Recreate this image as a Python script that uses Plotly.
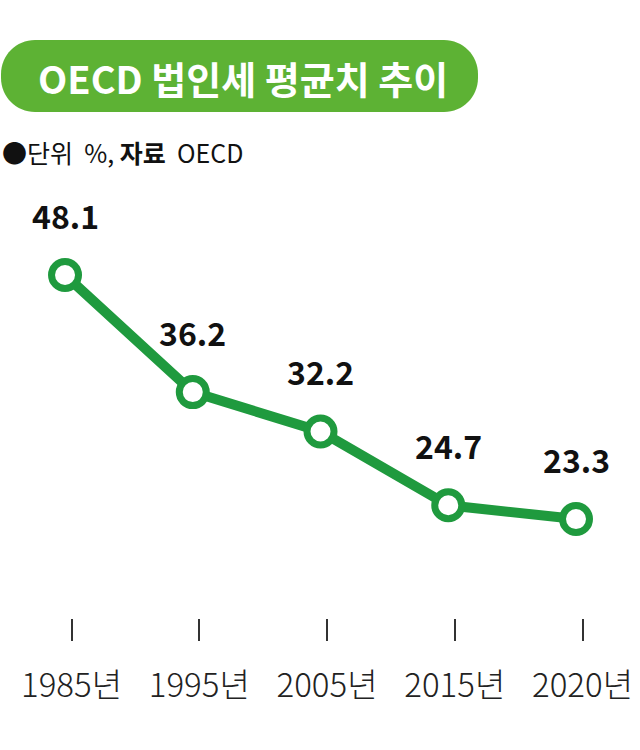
import plotly.graph_objects as go

years = ["1985년", "1995년", "2005년", "2015년", "2020년"]
values = [48.1, 36.2, 32.2, 24.7, 23.3]
labels = ["48.1", "36.2", "32.2", "24.7", "23.3"]

W, H = 640, 750
LINE_GREEN = "#1F9A3E"
PILL_GREEN = "#5DB234"
FONT = "Noto Sans CJK KR"

def px(x):
    return x / W

def py(y):
    return 1 - y / H

def pill_path(x0, y0, x1, y1, r):
    k = 0.5523 * r
    pts = []
    pts.append(f"M{px(x0 + r)},{py(y0)}")
    pts.append(f"L{px(x1 - r)},{py(y0)}")
    pts.append(f"C{px(x1 - r + k)},{py(y0)} {px(x1)},{py(y0 + r - k)} {px(x1)},{py(y0 + r)}")
    pts.append(f"L{px(x1)},{py(y1 - r)}")
    pts.append(f"C{px(x1)},{py(y1 - r + k)} {px(x1 - r + k)},{py(y1)} {px(x1 - r)},{py(y1)}")
    pts.append(f"L{px(x0 + r)},{py(y1)}")
    pts.append(f"C{px(x0 + r - k)},{py(y1)} {px(x0)},{py(y1 - r + k)} {px(x0)},{py(y1 - r)}")
    pts.append(f"L{px(x0)},{py(y0 + r)}")
    pts.append(f"C{px(x0)},{py(y0 + r - k)} {px(x0 + r - k)},{py(y0)} {px(x0 + r)},{py(y0)}")
    pts.append("Z")
    return " ".join(pts)

fig = go.Figure()
fig.add_trace(go.Scatter(
    x=years, y=values, mode="lines+markers",
    line=dict(color=LINE_GREEN, width=10),
    marker=dict(size=27, color="white", line=dict(color=LINE_GREEN, width=7)),
    hoverinfo="skip", showlegend=False,
))
# invisible trace for the tick axis
fig.add_trace(go.Scatter(x=years, y=values, xaxis="x2", mode="markers",
                         marker=dict(opacity=0), hoverinfo="skip", showlegend=False))

for yr, v, t in zip(years, values, labels):
    fig.add_annotation(x=yr, y=v, text=t, showarrow=False, yshift=60,
                       font=dict(family=FONT, size=32, color="#111111", weight=600))

fig.add_shape(type="path", xref="paper", yref="paper", path=pill_path(1, 40, 478, 112, 34),
              fillcolor=PILL_GREEN, line=dict(width=0), layer="below")
fig.add_annotation(xref="paper", yref="paper", x=px(36), y=py(78), xanchor="left", yanchor="middle",
                   text="<b>OECD 법인세 평균치 추이</b>", showarrow=False,
                   font=dict(family=FONT, size=38, color="white"))
fig.add_annotation(xref="paper", yref="paper", x=px(0), y=py(152), xanchor="left", yanchor="middle",
                   text="●단위  %, <b>자료</b>  OECD", showarrow=False,
                   font=dict(family=FONT, size=25, color="#111111"))

fig.update_layout(
    width=W, height=H, margin=dict(l=0, r=0, t=0, b=0),
    paper_bgcolor="white", plot_bgcolor="white",
    xaxis=dict(range=[-0.509, 4.501], visible=False, domain=[0, 1]),
    xaxis2=dict(range=[-0.56, 4.45], overlaying="x", anchor="free", position=py(618),
                side="bottom", showgrid=False, zeroline=False, showline=False,
                ticks="outside", ticklen=22, tickwidth=1.5, tickcolor="#333333",
                ticklabelstandoff=16,
                tickfont=dict(family=FONT, size=33, color="#222222", weight=300)),
    yaxis=dict(range=[-0.17, 76.05], visible=False, domain=[0, 1]),
)

fig.write_html("out.html", config={"displayModeBar": False},
               post_script="document.body.style.margin='0';document.body.style.overflow='hidden';")
